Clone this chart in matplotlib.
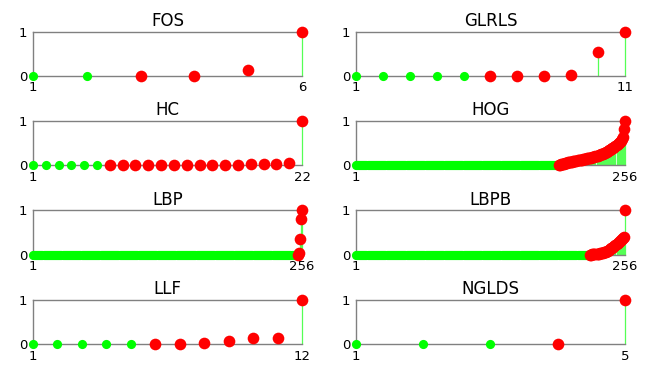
import matplotlib
matplotlib.use("Agg")
import matplotlib.pyplot as plt
import numpy as np

# normalised scores per feature group; the first n_green entries are unselected
titles = ["FOS", "GLRLS", "HC", "HOG", "LBP", "LBPB", "LLF", "NGLDS"]

fos_vals = [0, 0, 0, 0, 0.14, 1.0]
fos_green = 2

glrls_vals = [0, 0, 0, 0, 0, 0, 0, 0, 0.02, 0.53, 1.0]
glrls_green = 5

hc_vals = [0, 0, 0, 0, 0, 0,
           0, 0, 0, 0, 0, 0.005, 0.005, 0.01, 0.01, 0.015, 0.015, 0.02, 0.025, 0.03, 0.05,
           1.0]
hc_green = 6

hog_vals = [0.0] * 192 + [
    0.00, 0.01, 0.02, 0.03, 0.035, 0.04, 0.05, 0.055,
    0.06, 0.065, 0.07, 0.075, 0.08, 0.085, 0.09, 0.095, 0.10, 0.105,
    0.11, 0.115, 0.12, 0.125, 0.13, 0.135, 0.14, 0.145, 0.15, 0.155,
    0.16, 0.165, 0.17, 0.175, 0.18, 0.19, 0.195, 0.20, 0.21, 0.22,
    0.225, 0.235, 0.245, 0.255, 0.265, 0.275, 0.285, 0.30, 0.31, 0.325,
    0.34, 0.355, 0.37, 0.385, 0.40, 0.42, 0.44, 0.46, 0.48, 0.50,
    0.53, 0.56, 0.60, 0.65, 0.83, 1.00]
hog_green = 192

lbp_vals = [0.0] * 251 + [0.0, 0.03, 0.35, 0.80, 1.0]
lbp_green = 251

lbpb_vals = [0.0] * 222 + [
    0.0, 0.0, 0.005, 0.01, 0.01, 0.015, 0.02, 0.02,
    0.025, 0.03, 0.035, 0.04, 0.045, 0.05, 0.06, 0.07, 0.08, 0.09,
    0.10, 0.12, 0.14, 0.16, 0.18, 0.20, 0.22, 0.24, 0.26, 0.28,
    0.30, 0.32, 0.35, 0.38, 0.41, 1.00]
lbpb_green = 222

llf_vals = [0, 0, 0, 0, 0, 0, 0.01, 0.02, 0.07, 0.13, 0.13, 1.0]
llf_green = 5

nglds_vals = [0, 0, 0, 0, 1.0]
nglds_green = 3

series = [(fos_vals, fos_green), (glrls_vals, glrls_green), (hc_vals, hc_green),
          (hog_vals, hog_green), (lbp_vals, lbp_green), (lbpb_vals, lbpb_green),
          (llf_vals, llf_green), (nglds_vals, nglds_green)]

plt.rcParams["font.family"] = "DejaVu Sans"

fig, axes = plt.subplots(4, 2, figsize=(6.48, 3.65), dpi=100)
fig.subplots_adjust(left=0.0509, right=0.9645, top=0.9132, bottom=0.0575,
                    wspace=0.2, hspace=1.02)

for ax, title, (vals, n_green) in zip(axes.flat, titles, series):
    y = np.array(vals, dtype=float)
    x = np.arange(1, len(y) + 1)
    n = len(y)

    ax.vlines(x, 0, y, color="#55ff55", linewidth=0.9, zorder=2, clip_on=False)
    ax.plot(x[:n_green], y[:n_green], "o", color="#00ff00", markersize=6.6,
            markeredgewidth=0, clip_on=False, zorder=3)
    ax.plot(x[n_green:], y[n_green:], "o", color="#ff0000", markersize=8.4,
            markeredgewidth=0, clip_on=False, zorder=4)

    ax.set_xlim(1, n)
    ax.set_ylim(0, 1)
    ax.set_xticks([1, n])
    ax.set_yticks([0, 1])
    ax.tick_params(length=0, labelsize=9.5, pad=4)
    ax.set_title(title, fontsize=12, pad=4)

    for side in ["left", "top", "bottom"]:
        ax.spines[side].set_color("#808080")
        ax.spines[side].set_linewidth(1)
    ax.spines["right"].set_visible(False)

plt.savefig("out.png", dpi=100)
plt.close()
